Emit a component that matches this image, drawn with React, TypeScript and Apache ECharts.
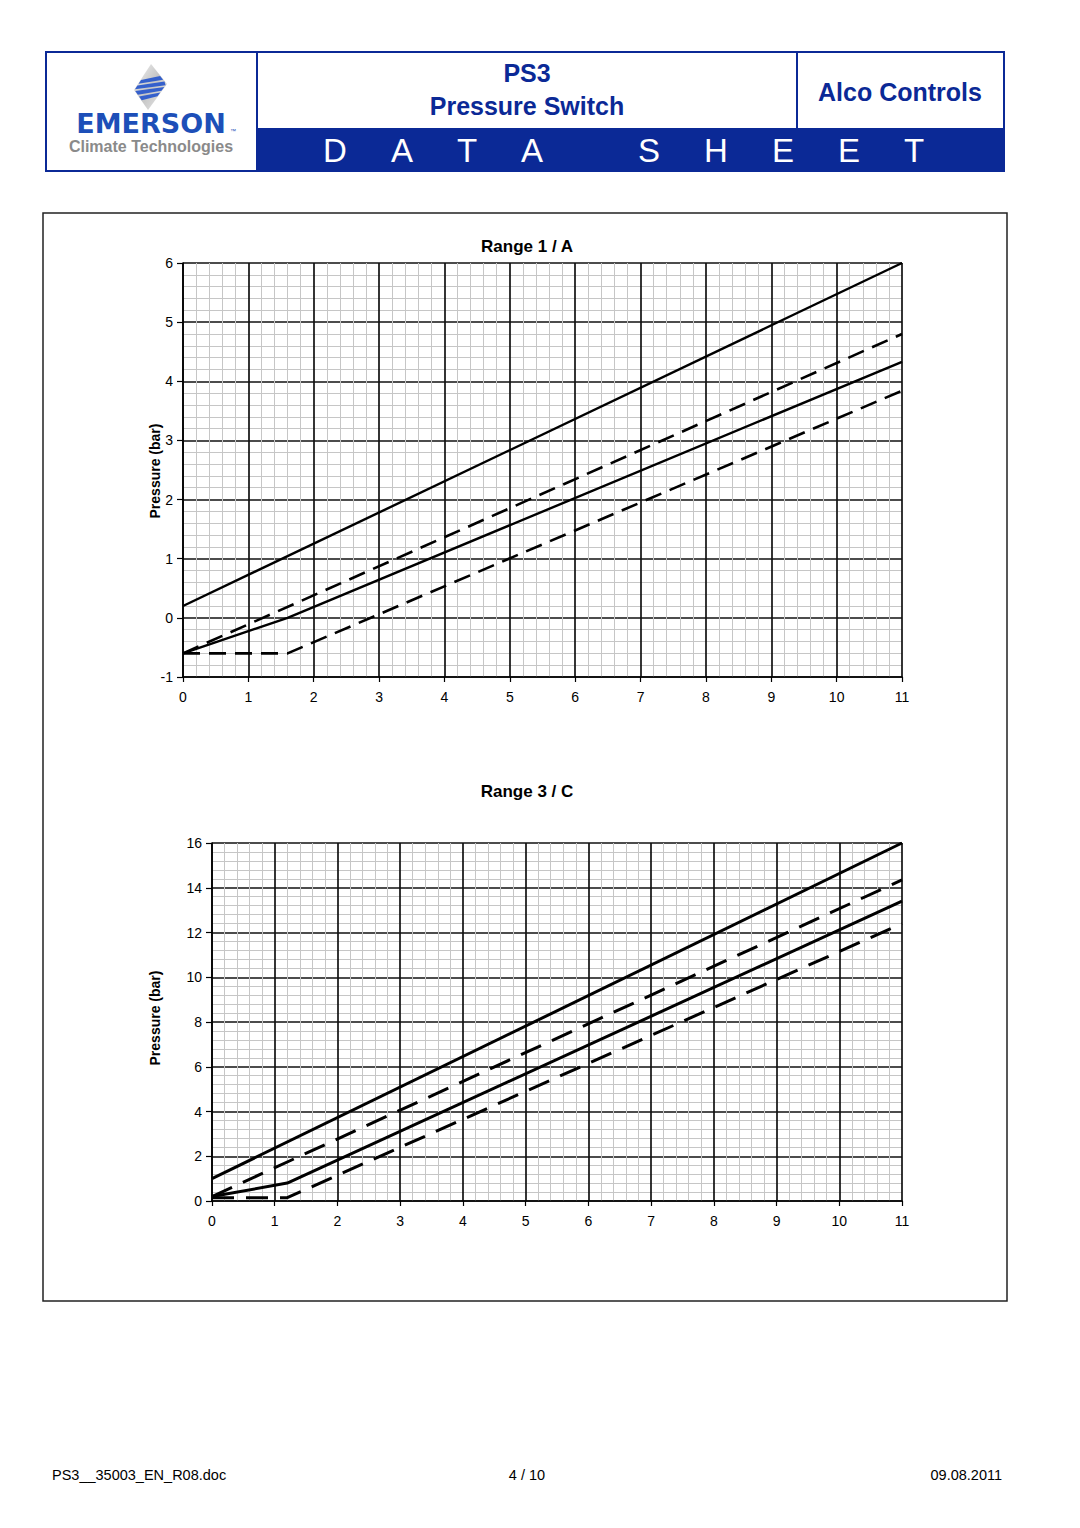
import React, { useEffect, useRef } from "react";
import * as echarts from "echarts";

// ---- Data ----
const xTicks1 = [0, 1, 2, 3, 4, 5, 6, 7, 8, 9, 10, 11];
const range1SolidUpper: number[][] = [[0, 0.2], [11, 6]];
const range1DashedUpper: number[][] = [[0, -0.6], [11, 4.8]];
const range1SolidLower: number[][] = [[0, -0.6], [1.6, 0], [11, 4.33]];
const range1DashedLower: number[][] = [[0, -0.6], [1.6, -0.6], [11, 3.84]];

const range3SolidUpper: number[][] = [[0, 1], [11, 16]];
const range3DashedUpper: number[][] = [[0, 0.2], [11, 14.35]];
const range3SolidLower: number[][] = [[0, 0.2], [1.2, 0.8], [11, 13.4]];
const range3DashedLower: number[][] = [[0, 0.15], [1.2, 0.15], [11, 12.4]];

const title1 = "Range 1 / A";
const title2 = "Range 3 / C";
const yName = "Pressure (bar)";
const dataSheetLetters = ["D", "A", "T", "A", "S", "H", "E", "E", "T"];
const dataSheetX = [335, 402, 467, 532, 649, 716, 783, 849, 914];

const NAVY = "#0b2996";
const FONT = "Liberation Sans, Arial, sans-serif";

function rhombusSpan(y: number, pts: number[][]): [number, number] {
  const xs: number[] = [];
  for (let i = 0; i < pts.length; i++) {
    const a = pts[i];
    const b = pts[(i + 1) % pts.length];
    if ((y - a[1]) * (y - b[1]) <= 0 && a[1] !== b[1]) {
      xs.push(a[0] + ((y - a[1]) / (b[1] - a[1])) * (b[0] - a[0]));
    }
  }
  return [Math.min(...xs), Math.max(...xs)];
}

function axisX(gridIndex: number) {
  return {
    gridIndex,
    type: "value",
    min: 0,
    max: 11,
    interval: 1,
    axisLine: { show: true, onZero: false, lineStyle: { color: "#000", width: 1.6 } },
    axisTick: { show: true, length: 5, lineStyle: { color: "#000", width: 1.2 } },
    axisLabel: {
      color: "#000",
      fontSize: 14,
      fontFamily: FONT,
      margin: 13,
      formatter: (v: number) => (xTicks1.includes(v) ? String(v) : ""),
    },
    splitLine: { show: true, lineStyle: { color: "#111", width: 1.7 } },
    minorTick: { show: false, splitNumber: 5 },
    minorSplitLine: { show: true, lineStyle: { color: "#c6c6c6", width: 1 } },
  };
}

function axisY(gridIndex: number, min: number, max: number, interval: number) {
  return {
    gridIndex,
    type: "value",
    min,
    max,
    interval,
    axisLine: { show: true, onZero: false, lineStyle: { color: "#000", width: 1.6 } },
    axisTick: { show: true, length: 6, lineStyle: { color: "#000", width: 1.2 } },
    axisLabel: { color: "#000", fontSize: 14, fontFamily: FONT, margin: 10 },
    splitLine: { show: true, lineStyle: { color: "#111", width: 1.7 } },
    minorTick: { show: false, splitNumber: 5 },
    minorSplitLine: { show: true, lineStyle: { color: "#c6c6c6", width: 1 } },
  };
}

function lineSeries(data: number[][], idx: number, dashed: boolean, width: number, dash: number[]) {
  return {
    type: "line",
    xAxisIndex: idx,
    yAxisIndex: idx,
    data,
    showSymbol: false,
    symbol: "none",
    z: 5,
    lineStyle: { color: "#000", width, type: dashed ? dash : "solid", cap: "butt" },
  };
}

export default function App() {
  const ref = useRef<HTMLDivElement>(null);
  useEffect(() => {
    if (!ref.current) return;
    const chart = echarts.init(ref.current, null, { renderer: "svg" });

    const diamond = [[151, 64], [167, 84], [148, 110], [134, 90]];
    const stripes: any[] = [];
    const stripeYs = [76, 81.5, 87, 92.5];
    stripeYs.forEach((y0) => {
      const h = 3.8;
      const tilt = 4;
      const [l0] = rhombusSpan(y0 + tilt, diamond);
      const [, r0] = rhombusSpan(y0, diamond);
      const [l1] = rhombusSpan(y0 + h + tilt, diamond);
      const [, r1] = rhombusSpan(y0 + h, diamond);
      stripes.push({
        type: "polygon",
        shape: { points: [[l0 + 0.5, y0 + tilt], [r0 - 0.5, y0], [r1 - 0.5, y0 + h], [l1 + 0.5, y0 + h + tilt]] },
        style: { fill: "#3560cc" },
        z: 12,
      });
    });

    const graphic: any[] = [
      // header outer box
      { type: "rect", shape: { x: 46, y: 52, width: 958, height: 119 }, style: { fill: "#fff", stroke: NAVY, lineWidth: 2 }, z: 1 },
      { type: "rect", shape: { x: 257, y: 128, width: 747, height: 43 }, style: { fill: NAVY }, z: 2 },
      { type: "line", shape: { x1: 257, y1: 52, x2: 257, y2: 171 }, style: { stroke: NAVY, lineWidth: 2 }, z: 3 },
      { type: "line", shape: { x1: 797, y1: 52, x2: 797, y2: 128 }, style: { stroke: NAVY, lineWidth: 2 }, z: 3 },
      { type: "text", x: 527, y: 73, style: { text: "PS3", fill: NAVY, font: `bold 25px ${FONT}`, textAlign: "center", textVerticalAlign: "middle" }, z: 5 },
      { type: "text", x: 527, y: 106, style: { text: "Pressure Switch", fill: NAVY, font: `bold 25px ${FONT}`, textAlign: "center", textVerticalAlign: "middle" }, z: 5 },
      { type: "text", x: 900, y: 92, style: { text: "Alco Controls", fill: NAVY, font: `bold 25px ${FONT}`, textAlign: "center", textVerticalAlign: "middle" }, z: 5 },
      ...dataSheetLetters.map((ch, i) => ({
        type: "text",
        x: dataSheetX[i],
        y: 150,
        style: { text: ch, fill: "#fff", font: `33px ${FONT}`, textAlign: "center", textVerticalAlign: "middle" },
        z: 5,
      })),
      // logo
      {
        type: "polygon",
        shape: { points: diamond },
        style: {
          fill: new echarts.graphic.LinearGradient(0, 0, 1, 1, [
            { offset: 0, color: "#f4f4f4" },
            { offset: 0.5, color: "#c4c4c4" },
            { offset: 1, color: "#ececec" },
          ]),
        },
        z: 11,
      },
      ...stripes,
      { type: "text", x: 151, y: 123, style: { text: "EMERSON", fill: "#1d4fb8", font: `bold 27px DejaVu Sans, ${FONT}`, textAlign: "center", textVerticalAlign: "middle" }, z: 5 },
      { type: "text", x: 230, y: 131, style: { text: "™", fill: "#1d4fb8", font: `6px ${FONT}`, textAlign: "left", textVerticalAlign: "middle" }, z: 5 },
      { type: "text", x: 151, y: 146, style: { text: "Climate Technologies", fill: "#8a8a8a", font: `bold 16px ${FONT}`, textAlign: "center", textVerticalAlign: "middle" }, z: 5 },
      // chart frame
      { type: "rect", shape: { x: 43, y: 213, width: 964, height: 1088 }, style: { fill: "none", stroke: "#222", lineWidth: 1.5 }, z: 0 },
      // titles
      { type: "text", x: 527, y: 246, style: { text: title1, fill: "#000", font: `bold 17px ${FONT}`, textAlign: "center", textVerticalAlign: "middle" }, z: 5 },
      { type: "text", x: 527, y: 791, style: { text: title2, fill: "#000", font: `bold 17px ${FONT}`, textAlign: "center", textVerticalAlign: "middle" }, z: 5 },
      { type: "text", x: 155, y: 471, rotation: Math.PI / 2, style: { text: yName, fill: "#000", font: `bold 14px ${FONT}`, textAlign: "center", textVerticalAlign: "middle" }, z: 5 },
      { type: "text", x: 155, y: 1018, rotation: Math.PI / 2, style: { text: yName, fill: "#000", font: `bold 14px ${FONT}`, textAlign: "center", textVerticalAlign: "middle" }, z: 5 },
      // footer
      { type: "text", x: 52, y: 1475, style: { text: "PS3__35003_EN_R08.doc", fill: "#000", font: `14.5px ${FONT}`, textAlign: "left", textVerticalAlign: "middle" }, z: 5 },
      { type: "text", x: 527, y: 1475, style: { text: "4 / 10", fill: "#000", font: `14.5px ${FONT}`, textAlign: "center", textVerticalAlign: "middle" }, z: 5 },
      { type: "text", x: 1002, y: 1475, style: { text: "09.08.2011", fill: "#000", font: `14.5px ${FONT}`, textAlign: "right", textVerticalAlign: "middle" }, z: 5 },
    ];

    chart.setOption({
      animation: false,
      backgroundColor: "#fff",
      grid: [
        { left: 183, top: 263, width: 719, height: 414, containLabel: false },
        { left: 212, top: 843, width: 690, height: 358, containLabel: false },
      ],
      xAxis: [axisX(0), axisX(1)],
      yAxis: [axisY(0, -1, 6, 1), axisY(1, 0, 16, 2)],
      series: [
        lineSeries(range1SolidUpper, 0, false, 2.4, [16, 9]),
        lineSeries(range1DashedUpper, 0, true, 2.6, [17, 9]),
        lineSeries(range1SolidLower, 0, false, 2.4, [16, 9]),
        lineSeries(range1DashedLower, 0, true, 2.6, [17, 9]),
        lineSeries(range3SolidUpper, 1, false, 3, [22, 12]),
        lineSeries(range3DashedUpper, 1, true, 3, [22, 12]),
        lineSeries(range3SolidLower, 1, false, 3, [22, 12]),
        lineSeries(range3DashedLower, 1, true, 3, [22, 12]),
      ],
      graphic,
    });
    return () => chart.dispose();
  }, []);
  return <div ref={ref} style={{ position: "absolute", left: 0, top: 0, width: 1080, height: 1528 }} />;
}
